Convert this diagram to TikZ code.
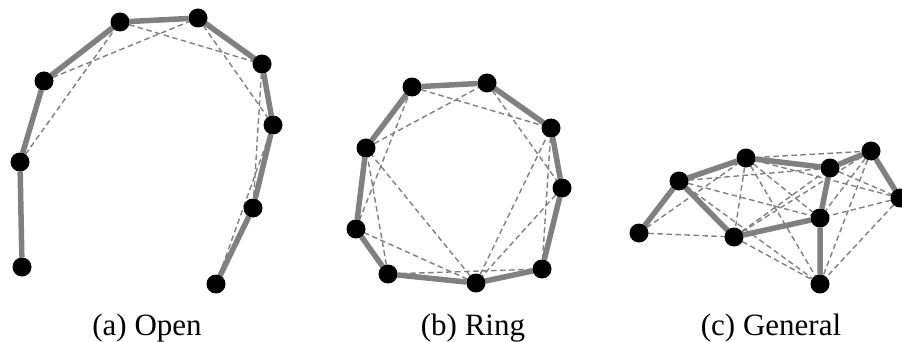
\documentclass[tikz,border=0pt]{standalone}
\usepackage{fontspec}
\setmainfont{Liberation Serif}
\usetikzlibrary{backgrounds}
\definecolor{topoGray}{HTML}{808080}
\definecolor{topoInk}{HTML}{000000}
\tikzset{
  topo diagram/.style={
    line width=1pt,
    every node/.style={inner sep=0pt, outer sep=0pt},
    baseline=(current bounding box.center)
  },
  topo node/.style={circle, fill=topoInk, minimum size=19pt},
  topo link/.style={draw=topoGray, line width=5.5pt},
  topo hop/.style={draw=topoGray, line width=1.4pt, dash pattern=on 5.5pt off 3.5pt},
  topo label/.style={anchor=base, font=\fontsize{31}{37}\selectfont}
}
\begin{document}
\begin{tikzpicture}[topo diagram,x=1pt,y=-1pt]
    \useasboundingbox (0,0) rectangle (902,342);
    % (a) open chain
    \node[topo node] (a1) at (22,267) {};
    \node[topo node] (a2) at (20,162) {};
    \node[topo node] (a3) at (44,81) {};
    \node[topo node] (a4) at (120,22) {};
    \node[topo node] (a5) at (198,18) {};
    \node[topo node] (a6) at (262,64) {};
    \node[topo node] (a7) at (273,125) {};
    \node[topo node] (a8) at (253,208) {};
    \node[topo node] (a9) at (216,284) {};
    % (b) ring
    \node[topo node] (b1) at (412,87) {};
    \node[topo node] (b2) at (487,83) {};
    \node[topo node] (b3) at (551,128) {};
    \node[topo node] (b4) at (562,188) {};
    \node[topo node] (b5) at (542,269) {};
    \node[topo node] (b6) at (476,283) {};
    \node[topo node] (b7) at (388,274) {};
    \node[topo node] (b8) at (356,229) {};
    \node[topo node] (b9) at (366,148) {};
    % (c) general
    \node[topo node] (c1) at (639,233) {};
    \node[topo node] (c2) at (679,181) {};
    \node[topo node] (c3) at (746,158) {};
    \node[topo node] (c4) at (734,237) {};
    \node[topo node] (c5) at (830,168) {};
    \node[topo node] (c6) at (871,151) {};
    \node[topo node] (c7) at (900,198) {};
    \node[topo node] (c8) at (820,218) {};
    \node[topo node] (c9) at (820,284) {};
    \begin{scope}[on background layer]
      \draw[topo hop] (a2) -- (a4);
      \draw[topo hop] (a3) -- (a5);
      \draw[topo hop] (a4) -- (a6);
      \draw[topo hop] (a5) -- (a7);
      \draw[topo hop] (a6) -- (a8);
      \draw[topo hop] (a7) -- (a9);
      \draw[topo link] (a1) -- (a2) -- (a3) -- (a4) -- (a5) -- (a6) -- (a7) -- (a8) -- (a9);
      \draw[topo hop] (b1) -- (b3);
      \draw[topo hop] (b2) -- (b4);
      \draw[topo hop] (b3) -- (b5);
      \draw[topo hop] (b4) -- (b6);
      \draw[topo hop] (b5) -- (b7);
      \draw[topo hop] (b6) -- (b8);
      \draw[topo hop] (b7) -- (b9);
      \draw[topo hop] (b8) -- (b1);
      \draw[topo hop] (b9) -- (b2);
      \draw[topo hop] (b6) -- (b3);
      \draw[topo hop] (b6) -- (b9);
      \draw[topo link] (b1) -- (b2) -- (b3) -- (b4) -- (b5) -- (b6) -- (b7) -- (b8) -- (b9) -- (b1);
      \draw[topo hop] (c1) -- (c3);
      \draw[topo hop] (c1) -- (c4);
      \draw[topo hop] (c2) -- (c5);
      \draw[topo hop] (c2) -- (c8);
      \draw[topo hop] (c2) -- (c9);
      \draw[topo hop] (c3) -- (c4);
      \draw[topo hop] (c3) -- (c6);
      \draw[topo hop] (c3) -- (c7);
      \draw[topo hop] (c3) -- (c8);
      \draw[topo hop] (c3) -- (c9);
      \draw[topo hop] (c4) -- (c5);
      \draw[topo hop] (c4) -- (c6);
      \draw[topo hop] (c4) -- (c9);
      \draw[topo hop] (c5) -- (c7);
      \draw[topo hop] (c6) -- (c8);
      \draw[topo hop] (c6) -- (c9);
      \draw[topo hop] (c7) -- (c8);
      \draw[topo hop] (c7) -- (c9);
      \draw[topo link] (c1) -- (c2) -- (c3) -- (c5) -- (c6) -- (c7);
      \draw[topo link] (c2) -- (c4) -- (c8) -- (c9);
      \draw[topo link] (c5) -- (c8);
    \end{scope}
    % captions
    \node[topo label] (la) at (147,335) {(a) Open};
    \node[topo label] (lb) at (473,335) {(b) Ring};
    \node[topo label] (lc) at (771,335) {(c) General};
  \end{tikzpicture}
\end{document}
